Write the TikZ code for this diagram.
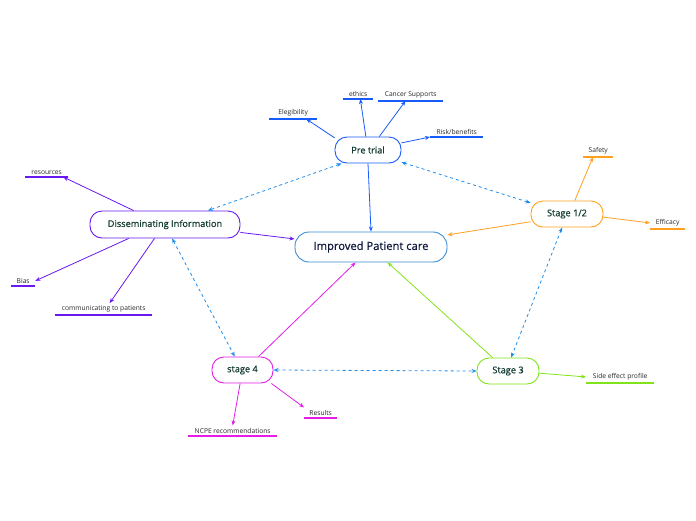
\documentclass[tikz,border=0pt]{standalone}
\usepackage{fontspec}
\setmainfont{Open Sans}
\newfontfamily\topicfont[FakeBold=0.6]{Open Sans}
\usepackage{tikz}
\usetikzlibrary{arrows.meta,calc}

\definecolor{pretrialblue}{RGB}{25,90,250}
\definecolor{dissviolet}{RGB}{105,25,240}
\definecolor{stageorange}{RGB}{255,160,30}
\definecolor{stagemagenta}{RGB}{228,30,228}
\definecolor{stagegreen}{RGB}{128,228,25}
\definecolor{linkblue}{RGB}{30,140,235}
\definecolor{careblue}{RGB}{60,140,210}
\definecolor{nodetext}{RGB}{20,60,50}
\definecolor{leaftext}{RGB}{40,40,40}

\tikzset{
    topic/.style={draw, line width=0.9pt, fill=white, rounded corners=12pt,
        minimum height=26pt, inner xsep=4pt, text=nodetext, font=\topicfont\fontsize{9.2}{10}\selectfont},
    leaf/.style={anchor=south west, inner xsep=0pt, inner ysep=2.5pt,
        text=leaftext, font=\fontsize{6.7}{7}\selectfont},
    uline/.style={line width=1.3pt},
    branch/.style={-{Stealth[length=5pt,width=4pt]}, line width=0.8pt},
    link/.style={{Stealth[length=5pt,width=4pt]}-{Stealth[length=5pt,width=4pt]},
        dashed, line width=0.8pt, color=linkblue}
}

\begin{document}
\begin{tikzpicture}[x=1pt, y=-1pt]
    \useasboundingbox (0,0) rectangle (696,520);

    % zentrales Thema
    \node[topic, draw=careblue, rounded corners=14pt, minimum width=152pt, minimum height=30pt,
        font=\topicfont\fontsize{11.2}{12}\selectfont, text={rgb,255:red,15;green,25;blue,60}]
        (care) at (371,247) {Improved Patient care};

    % Hauptknoten
    \node[topic, draw=pretrialblue, minimum width=66pt] (pre) at (368,150) {Pre trial};
    \node[topic, draw=dissviolet, minimum width=150pt, minimum height=27pt] (diss) at (165,224.5) {Disseminating Information};
    \node[topic, draw=stageorange, minimum width=72pt] (s12) at (567,214) {Stage 1/2};
    \node[topic, draw=stagemagenta, minimum width=61pt] (s4) at (242.5,370) {stage 4};
    \node[topic, draw=stagegreen, minimum width=62pt] (s3) at (508,371) {Stage 3};

    % Blaetter
    \node[leaf, minimum width=48pt] (eleg) at (269,119) {Elegibility};
    \node[leaf, minimum width=30pt] (ethics) at (343,99) {ethics};
    \node[leaf, minimum width=65pt] (cancer) at (378,101) {Cancer Supports};
    \node[leaf, minimum width=53pt] (risk) at (430,137) {Risk/benefits};
    \node[leaf, minimum width=43pt] (res) at (25,177) {resources};
    \node[leaf, minimum width=24pt] (bias) at (11,286) {Bias};
    \node[leaf, minimum width=97pt] (comm) at (55,315) {communicating to patients};
    \node[leaf, minimum width=30pt] (safety) at (583,157) {Safety};
    \node[leaf, minimum width=35pt] (effic) at (650,229) {Efficacy};
    \node[leaf, minimum width=68pt] (side) at (586,383) {Side effect profile};
    \node[leaf, minimum width=33pt] (results) at (304,418) {Results};
    \node[leaf, minimum width=89pt] (ncpe) at (188,436) {NCPE recommendations};

    % Unterstreichungen
    \foreach \n/\c in {eleg/pretrialblue, ethics/pretrialblue, cancer/pretrialblue, risk/pretrialblue,
        res/dissviolet, bias/dissviolet, comm/dissviolet, safety/stageorange, effic/stageorange,
        side/stagegreen, results/stagemagenta, ncpe/stagemagenta} {
        \draw[uline, \c] (\n.south west) -- (\n.south east);
    }

    % Zweige Pre trial
    \begin{scope}[pretrialblue]
        \draw[branch] (pre.160) -- ($(eleg.south west)!0.77!(eleg.south east)$);
        \draw[branch] (pre.99) -- ($(ethics.south west)!0.57!(ethics.south east)$);
        \draw[branch] (pre.50) -- ($(cancer.south west)!0.42!(cancer.south east)$);
        \draw[branch] (pre.12) -- (risk.south west);
        \draw[branch] (pre.south) -- (care.north);
    \end{scope}

    % Zweige Disseminating Information
    \begin{scope}[dissviolet]
        \draw[branch] (diss.156) -- ($(res.south west)!0.88!(res.south east)$);
        \draw[branch] (diss.201) -- (bias.east);
        \draw[branch] (diss.233) -- ([xshift=6pt]comm.north);
        \draw[branch] (diss.-6) -- (care.174);
    \end{scope}

    % Zweige Stage 1/2
    \begin{scope}[stageorange]
        \draw[branch] (s12.192) -- (care.9);
        \draw[branch] (s12.60) -- ($(safety.south west)!0.33!(safety.south east)$);
        \draw[branch] (s12.-5) -- (effic.west);
    \end{scope}

    % Zweige stage 4
    \begin{scope}[stagemagenta]
        \draw[branch] (s4.40) -- (care.225);
        \draw[branch] (s4.260) -- (ncpe.north);
        \draw[branch] (s4.-25) -- (results.north west);
    \end{scope}

    % Zweige Stage 3
    \begin{scope}[stagegreen]
        \draw[branch] (s3.139) -- (care.-43);
        \draw[branch] (s3.-4) -- (side.west);
    \end{scope}

    % gestrichelte Querverbindungen
    \draw[link] (pre.207) -- (diss.18);
    \draw[link] (pre.-20) -- (s12.163);
    \draw[link] (diss.297) -- (s4.120);
    \draw[link] (s12.250) -- (s3.77);
    \draw[link] (s4.east) -- (s3.west);
\end{tikzpicture}
\end{document}
